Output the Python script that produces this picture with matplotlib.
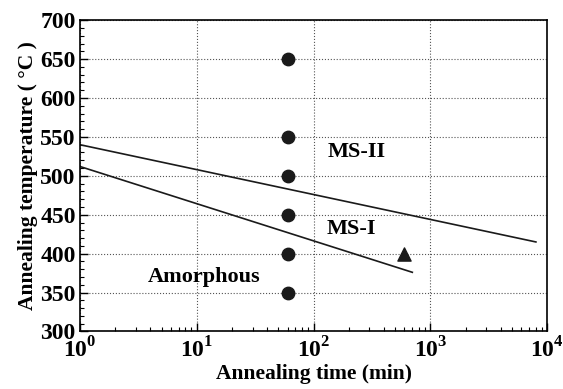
import numpy as np
import matplotlib
matplotlib.use("Agg")
import matplotlib.pyplot as plt
from matplotlib.ticker import FixedLocator, LogLocator, NullFormatter

plt.rcParams['font.family'] = ['Liberation Serif', 'DejaVu Serif']
plt.rcParams['font.weight'] = 'bold'
plt.rcParams['mathtext.fontset'] = 'custom'
plt.rcParams['mathtext.rm'] = 'Liberation Serif:bold'
plt.rcParams['mathtext.bf'] = 'Liberation Serif:bold'

# data
dot_time = [60, 60, 60, 60, 60, 60]
dot_temp = [350, 400, 450, 500, 550, 650]
tri_time = [600]
tri_temp = [400]
upper_time = [1, 8000]
upper_temp = [540, 415]
lower_time = [1, 700]
lower_temp = [512, 376]

fig, ax = plt.subplots(figsize=(5.63, 3.89), dpi=100)
fig.subplots_adjust(left=0.142, right=0.972, top=0.948, bottom=0.148)

ax.plot(upper_time, upper_temp, color='#1a1a1a', lw=1.2)
ax.plot(lower_time, lower_temp, color='#1a1a1a', lw=1.2)
ax.scatter(dot_time, dot_temp, s=80, color='#1a1a1a', zorder=3)
ax.scatter(tri_time, tri_temp, s=90, marker='^', color='#1a1a1a', zorder=3)

ax.text(235, 530, 'MS-II', fontsize=16, fontweight='bold', ha='center', va='center')
ax.text(210, 432, 'MS-I', fontsize=16, fontweight='bold', ha='center', va='center')
ax.text(11.5, 370, 'Amorphous', fontsize=16, fontweight='bold', ha='center', va='center')

ax.set_xscale('log')
ax.set_xlim(1, 1e4)
ax.set_ylim(300, 700)
ax.set_xticks([1, 10, 100, 1000, 10000])
ax.set_xticklabels([r'$10^{%d}$' % i for i in range(5)])
ax.xaxis.set_minor_locator(LogLocator(base=10, subs=np.arange(2, 10)))
ax.xaxis.set_minor_formatter(NullFormatter())
ax.set_yticks(np.arange(300, 701, 50))
ax.yaxis.set_minor_locator(FixedLocator(np.arange(300, 701, 10)))

ax.tick_params(which='both', direction='in', labelsize=17)
ax.tick_params(axis='x', pad=4)
ax.tick_params(axis='y', pad=3)
ax.tick_params(which='major', length=6, width=1)
ax.tick_params(which='minor', length=3, width=0.8)
ax.grid(True, which='major', linestyle=':', color='#555555', lw=0.8)
for s in ax.spines.values():
    s.set_linewidth(1.2)

ax.set_xlabel('Annealing time (min)', fontsize=15.5, fontweight='bold', labelpad=1)
ax.set_ylabel('Annealing temperature ( \u00b0C )', fontsize=15.5, fontweight='bold', labelpad=2)

fig.savefig('out.png', dpi=100)
